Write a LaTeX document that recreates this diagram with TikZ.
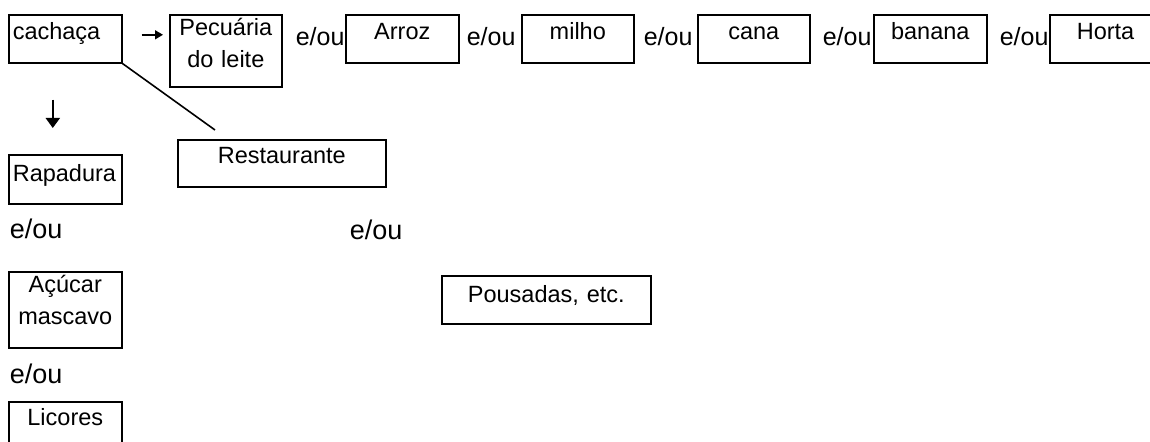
\documentclass[tikz,border=0pt]{standalone}
\usepackage{fontspec}
\setmainfont{Liberation Sans}
\usetikzlibrary{arrows.meta,positioning}

\begin{document}
\begin{tikzpicture}[x=0.5pt, y=-0.5pt, >={Triangle[length=5pt,width=5pt]}, line width=0.8pt]

    \tikzstyle{caixa} = [rectangle, draw=black, anchor=north west, inner xsep=2pt, inner ysep=0pt, align=center, font=\fontsize{11.75}{16}\selectfont]
    \tikzstyle{eou} = [anchor=base west, inner sep=0pt, font=\fontsize{12.5}{15}\selectfont]
    \tikzstyle{eougr} = [eou, font=\fontsize{13.5}{15}\selectfont]

    \useasboundingbox (0,0) rectangle (1150,442);

    % linha de cima
    \node (cachaca)  [caixa, align=left, text width=52.5pt, text height=12.5pt, text depth=11.5pt] at (8,14)    {cachaça};
    \node (pecuaria) [caixa, text width=52pt, text height=10.5pt, text depth=25.5pt]            at (169,14)  {Pecuária\\do leite};
    \node (arroz)    [caixa, text width=52.5pt, text height=12.5pt, text depth=11.5pt]          at (345,14)  {Arroz};
    \node (milho)    [caixa, text width=52pt, text height=12.5pt, text depth=11.5pt]            at (521,14)  {milho};
    \node (cana)     [caixa, text width=52pt, text height=12.5pt, text depth=11.5pt]            at (697,14)  {cana};
    \node (banana)   [caixa, text width=52.5pt, text height=12.5pt, text depth=11.5pt]          at (873,14)  {banana};
    \node (horta)    [caixa, align=left, text width=70pt, text height=12.5pt, text depth=11.5pt] at (1049,14) {\hspace*{11.5pt}Horta};

    \node (eou1) [eou] at (295,46) {e/ou};
    \node (eou2) [eou] at (466,46) {e/ou};
    \node (eou3) [eou] at (643,46) {e/ou};
    \node (eou4) [eou] at (822,46) {e/ou};
    \node (eou5) [eou] at (999,46) {e/ou};

    % coluna da esquerda
    \node (rapadura)    [caixa, align=left, text width=52.5pt, text height=13.5pt, text depth=11pt] at (8,154) {Rapadura};
    \node (eou6)        [eougr] at (9,239) {e/ou};
    \node (acucar)      [caixa, text width=52.5pt, text height=10.5pt, text depth=27.5pt]            at (8,271) {Açúcar\\mascavo};
    \node (eou7)        [eougr] at (9,384) {e/ou};
    \node (licores)     [caixa, text width=52.5pt, text height=12pt, text depth=12pt]                at (8,401) {Licores};

    % ramo do meio
    \node (restaurante) [caixa, text width=100pt, text height=12pt, text depth=11.5pt]   at (177,139) {Restaurante};
    \node (eou8)        [eougr] at (349,240) {e/ou};
    \node (pousadas)    [caixa, text width=100.5pt, text height=13.5pt, text depth=10.5pt] at (441,275) {Pousadas, etc.};

    \draw[-{Triangle[length=4pt,width=4.5pt]}, transform canvas={yshift=2pt}, shorten <=9.5pt, shorten >=3pt] (cachaca.east) -- (cachaca.east -| pecuaria.west);
    \draw[-{Triangle[length=5pt,width=7pt]}, line width=1pt, transform canvas={xshift=-6.25pt}, shorten <=18pt, shorten >=13pt] (cachaca.south) -- (rapadura.north);
    \draw (cachaca.south east) -- ([shift={(19pt,4.5pt)}]restaurante.north west);

\end{tikzpicture}
\end{document}
